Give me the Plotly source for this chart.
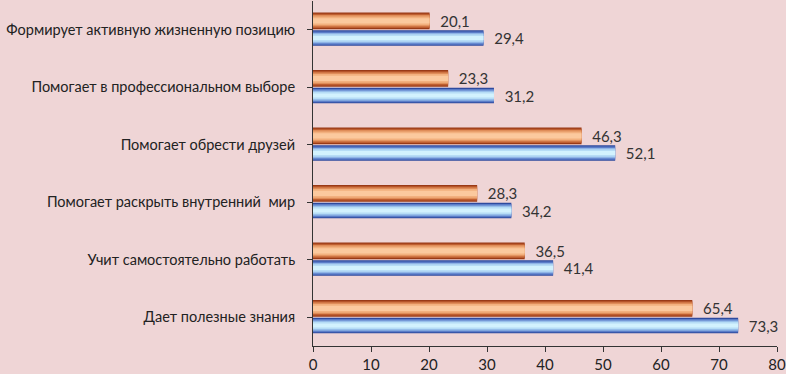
import plotly.graph_objects as go

categories = [
    "Дает полезные знания",
    "Учит самостоятельно работать",
    "Помогает раскрыть внутренний  мир",
    "Помогает обрести друзей",
    "Помогает в профессиональном выборе",
    "Формирует активную жизненную позицию",
]
orange_values = [65.4, 36.5, 28.3, 46.3, 23.3, 20.1]
blue_values = [73.3, 41.4, 34.2, 52.1, 31.2, 29.4]
x_ticks = [0, 10, 20, 30, 40, 50, 60, 70, 80]

idx = list(range(len(categories)))

orange_layers = [
    (0.29, "#9A3A16"),
    (0.25, "#BE5E30"),
    (0.20, "#DF8C58"),
    (0.15, "#F2B07E"),
    (0.09, "#FBC99E"),
]
blue_layers = [
    (0.27, "#2E4A9E"),
    (0.23, "#5A7CC8"),
    (0.18, "#8EB4E6"),
    (0.13, "#B6DDF6"),
    (0.07, "#D2F2FE"),
]

FONT = "Lato, Open Sans, sans-serif"
fig = go.Figure()

def add_series(values, layers, center, label_shift):
    for i, (w, c) in enumerate(layers):
        first = i == 0
        fig.add_trace(go.Bar(
            y=idx, x=values, orientation="h",
            width=w, offset=center - w / 2,
            marker=dict(color=c, line=dict(width=0)),
            text=values if first else None,
            texttemplate=label_shift + "%{x:.1f}" if first else None,
            textposition="outside" if first else "none",
            constraintext="none",
            textfont=dict(family=FONT, size=15, color="#333333"),
            cliponaxis=False,
            hoverinfo="skip",
            showlegend=False,
        ))

add_series(blue_values, blue_layers, -0.145, "  ")
add_series(orange_values, orange_layers, 0.155, "  ")

fig.update_layout(
    width=786, height=374,
    margin=dict(l=313, r=9, t=1, b=28),
    barmode="overlay",
    paper_bgcolor="#EFD5D6",
    plot_bgcolor="#EFD5D6",
    separators=", ",
    font=dict(family=FONT, size=15, color="#222222"),
    xaxis=dict(
        range=[0, 80], tickvals=x_ticks, showgrid=False, zeroline=False,
        showline=True, linecolor="#333333", linewidth=1,
        ticks="outside", ticklen=5, tickcolor="#333333",
        tickfont=dict(family=FONT, size=15, color="#222222"),
        automargin=False,
    ),
    yaxis=dict(
        range=[-0.5, 5.5], tickvals=idx, ticktext=categories,
        showgrid=False, zeroline=False,
        showline=True, linecolor="#333333", linewidth=1,
        tickson="boundaries", ticks="outside", ticklen=5, tickcolor="#333333",
        ticklabelstandoff=9,
        tickfont=dict(family=FONT, size=14.5, color="#222222"),
        automargin=False,
    ),
)

fig.write_html(
    "out.html",
    config={"displayModeBar": False},
    post_script="document.body.style.margin='0';document.body.style.overflow='hidden';",
)
